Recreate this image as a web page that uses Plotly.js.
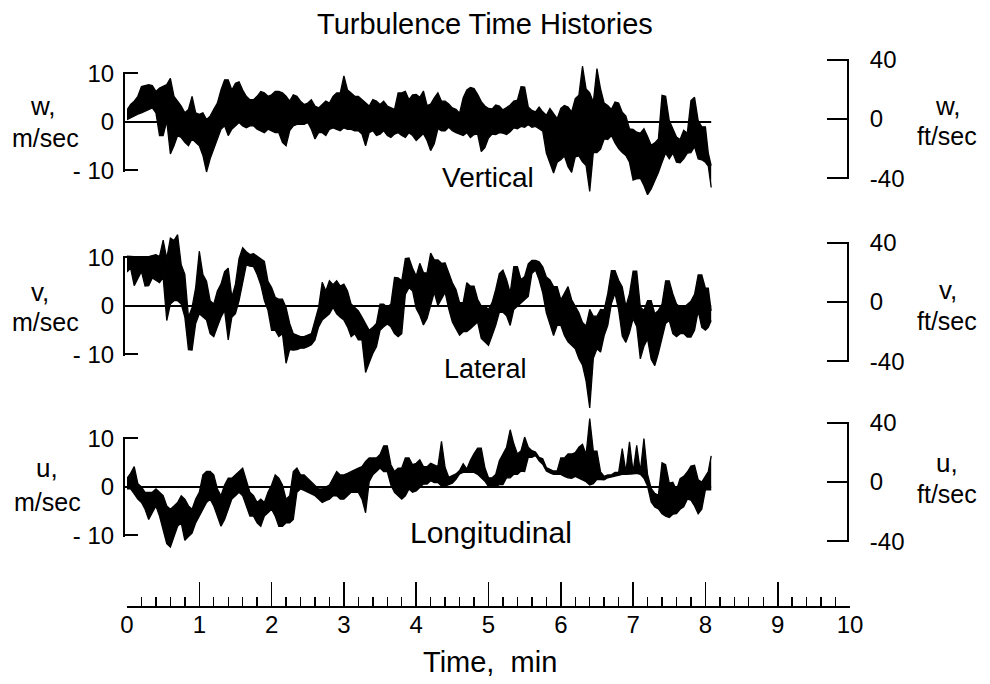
<!DOCTYPE html>
<html><head><meta charset="utf-8">
<script src="https://cdn.plot.ly/plotly-3.0.1.min.js"></script>
<style>html,body{margin:0;padding:0;background:#fff}#chart{width:990px;height:684px}</style>
</head><body><div id="chart"></div>
<script>
// ---- data ----
const time = [0,0.05,0.1,0.15,0.2,0.25,0.3,0.35,0.4,0.45,0.5,0.55,0.6,0.65,0.7,0.75,0.8,0.85,0.9,0.95,
1.0,1.05,1.1,1.15,1.2,1.25,1.3,1.35,1.4,1.45,1.5,1.55,1.6,1.65,1.7,1.75,1.8,1.85,1.9,1.95,
2.0,2.05,2.1,2.15,2.2,2.25,2.3,2.35,2.4,2.45,2.5,2.55,2.6,2.65,2.7,2.75,2.8,2.85,2.9,2.95,
3.0,3.05,3.1,3.15,3.2,3.25,3.3,3.35,3.4,3.45,3.5,3.55,3.6,3.65,3.7,3.75,3.8,3.85,3.9,3.95,
4.0,4.05,4.1,4.15,4.2,4.25,4.3,4.35,4.4,4.45,4.5,4.55,4.6,4.65,4.7,4.75,4.8,4.85,4.9,4.95,
5.0,5.05,5.1,5.15,5.2,5.25,5.3,5.35,5.4,5.45,5.5,5.55,5.6,5.65,5.7,5.75,5.8,5.85,5.9,5.95,
6.0,6.05,6.1,6.15,6.2,6.25,6.3,6.35,6.4,6.45,6.5,6.55,6.6,6.65,6.7,6.75,6.8,6.85,6.9,6.95,
7.0,7.05,7.1,7.15,7.2,7.25,7.3,7.35,7.4,7.45,7.5,7.55,7.6,7.65,7.7,7.75,7.8,7.85,7.9,7.95,
8.0,8.04,8.08];

// Vertical gust w, m/sec : upper / lower envelope of the recorded trace
const wHigh = [2.5,3.6,4.3,5.3,7.3,7.5,7.7,7.5,6.3,7.0,7.3,7.7,9.0,5.3,4.3,3.3,1.9,2.6,5.3,1.9,
1.6,1.9,0.5,1.2,2.6,3.9,6.6,8.7,8.7,6.6,8.0,8.3,6.6,5.3,4.6,4.6,5.3,6.3,6.0,5.3,
5.6,6.3,6.3,6.0,5.3,4.3,5.6,5.3,4.3,3.6,3.9,4.6,3.3,2.9,3.6,4.3,3.9,5.3,6.0,6.0,
9.5,6.6,6.0,5.3,5.3,4.6,3.9,3.3,4.6,4.3,3.6,4.3,3.3,2.9,2.6,6.0,6.0,6.3,4.6,5.6,
5.7,5.1,6.4,3.4,3.7,5.0,6.0,4.3,4.3,3.7,2.9,2.6,1.8,5.0,6.6,7.1,6.9,5.7,4.2,3.3,
2.8,2.7,3.5,3.3,2.5,3.0,3.5,4.3,4.5,7.3,7.2,3.1,2.4,2.1,3.1,2.1,1.4,2.8,1.8,0.7,
2.8,3.4,3.1,2.1,4.8,5.5,11.5,6.8,6.0,4.1,11.0,6.8,3.9,3.4,2.6,4.1,3.9,2.0,1.2,-1.4,
-1.5,-2.1,-2.3,-1.4,-3.0,-4.8,-4.3,-3.5,5.5,5.3,0.3,-1.5,-3.1,-3.6,-1.7,-2.3,4.4,5.1,0.3,-1.0,
-1.0,-6.4,-9.0];
const wLow = [0.5,0.9,1.2,1.6,1.9,2.2,2.6,2.9,1.9,-2.8,-2.8,0.2,-6.6,-4.9,-2.8,-3.2,-4.2,-4.9,-3.5,-4.2,
-4.9,-6.9,-10.3,-7.6,-5.6,-3.5,-1.5,-0.8,-2.8,-1.5,-0.8,-0.1,-0.8,-1.2,-0.8,-0.8,-1.5,-1.8,-2.2,-1.5,
-1.8,-2.2,-2.2,-4.2,-4.9,-1.8,-0.8,-0.5,-0.5,-0.5,-0.1,-1.5,-3.5,-2.2,-2.2,-2.8,-1.5,-1.2,-1.5,-1.8,
-1.2,-1.5,-1.5,-1.8,-1.8,-2.5,-4.9,-2.2,-1.8,-2.8,-2.5,-1.8,-2.8,-3.2,-2.5,-2.2,-2.8,-3.2,-2.2,-2.8,
-3.8,-3.1,-2.4,-3.8,-5.9,-4.5,-1.4,-1.8,-1.8,-1.1,-1.8,-2.2,-2.5,-2.8,-2.2,-3.2,-2.6,-2.5,-6.1,-5.3,
-3.3,-2.5,-2.6,-2.2,-2.3,-2.6,-2.0,-1.2,-1.4,-0.9,-1.1,-0.5,-1.1,-0.9,-1.4,-1.9,-6.4,-8.3,-10.5,-8.3,
-7.8,-7.0,-9.2,-10.4,-7.2,-7.0,-8.2,-9.0,-14.3,-6.3,-6.3,-5.6,-3.5,-3.6,-2.8,-4.3,-5.5,-6.3,-6.9,-8.3,
-12.0,-11.7,-11.6,-13.1,-15.0,-13.8,-12.2,-10.4,-8.3,-6.4,-7.6,-6.4,-8.3,-8.4,-7.6,-6.4,-6.3,-5.1,-7.6,-7.8,
-8.3,-9.1,-13.5];

// Lateral gust v, m/sec
const vHigh = [10.3,10.2,10.2,10.2,10.2,10.2,10.2,10.4,10.6,10.2,13.6,9.8,14.0,13.5,14.7,8.5,6.5,-2.3,-0.3,3.8,
11.3,6.5,5.1,1.1,0.4,3.1,4.5,7.1,7.8,1.8,4.5,9.8,12.0,11.2,10.6,10.8,10.2,9.8,9.2,5.1,
3.8,1.8,1.4,1.4,-0.3,-3.6,-5.7,-6.0,-6.3,-6.3,-6.0,-5.7,-3.0,-0.3,4.9,3.1,5.2,4.4,5.2,4.1,
4.5,3.1,0.4,-0.3,-1.0,-2.3,-3.7,-5.0,-4.4,-3.6,0.4,0.4,-0.3,0.4,5.9,5.8,5.2,9.8,9.9,7.8,
6.2,8.8,6.9,6.8,10.9,9.5,9.5,8.8,8.9,6.8,4.8,3.4,0.7,0.7,4.8,4.1,4.1,1.4,0.0,0.0,
-0.7,0.7,3.4,6.7,7.4,5.4,2.7,8.1,8.1,5.4,6.1,8.7,9.4,9.4,9.1,8.1,6.0,5.4,4.0,4.0,
1.3,2.6,4.0,1.3,0.0,-1.4,-3.4,-4.1,-0.7,-2.1,-2.1,-0.7,-0.8,2.6,7.3,7.3,5.3,3.9,-0.1,2.5,
7.2,7.2,-0.2,-0.9,1.1,1.1,-1.6,-0.9,0.4,5.2,5.2,2.5,0.4,-0.2,-0.3,0.4,1.0,2.4,6.4,6.4,
3.7,3.7,-1.0];
const vLow = [7.0,7.8,4.2,5.8,7.1,4.1,4.2,5.8,5.2,4.8,5.9,-3.0,0.4,1.1,1.1,0.4,-2.3,-9.0,-9.1,-3.6,
-1.6,-2.3,-2.9,-5.7,-6.3,-4.3,-2.3,-0.9,-7.0,-2.3,-1.6,1.1,4.5,8.5,8.2,8.1,6.5,4.4,1.1,-0.9,
-5.0,-5.0,-6.3,-5.7,-11.8,-9.0,-9.1,-9.0,-8.7,-8.7,-8.4,-8.0,-7.0,-4.3,-2.9,-2.3,-1.6,-0.3,-1.6,-2.3,
-2.9,-4.3,-6.3,-5.7,-7.0,-7.0,-13.7,-11.7,-9.8,-8.4,-5.0,-4.3,-3.7,-4.3,-5.7,-6.3,-5.7,2.4,3.8,3.1,
-0.5,-1.9,-3.9,-2.6,0.1,2.8,0.1,1.4,2.8,-0.6,-3.3,-4.7,-6.0,-5.3,-5.3,-4.7,-4.0,-3.3,-6.7,-7.4,
-8.1,-6.1,-4.0,-1.3,-1.3,-2.0,-4.0,-0.7,0.0,0.6,1.3,2.0,6.7,7.4,5.4,2.7,-1.4,-4.0,-6.1,-4.0,
-4.0,-6.1,-7.4,-8.1,-8.8,-10.8,-12.2,-15.5,-21.0,-10.8,-8.8,-9.5,-6.1,-4.0,0.5,2.6,-0.8,-6.2,-7.5,-5.5,
-2.6,-4.2,-10.9,-8.3,-6.8,-11.0,-12.3,-9.7,-6.3,-3.6,-3.0,-5.7,-6.3,-5.7,-5.7,-6.4,-6.4,-5.0,-1.0,-4.4,
-5.0,-4.4,-3.0];

// Longitudinal gust u, m/sec
const uHigh = [1.8,2.8,4.2,0.7,0.0,-1.1,-1.1,-1.1,-0.4,-1.1,-1.8,-3.9,-4.6,-3.9,-3.2,-1.8,-2.5,-3.9,-4.6,-2.5,
-1.1,2.5,3.2,3.2,2.5,-0.4,-1.8,0.4,1.8,1.8,2.5,3.2,3.9,1.4,-1.1,-1.8,-3.2,-2.5,-3.2,-1.1,
0.4,2.5,1.8,0.4,-2.5,-1.8,3.2,3.9,2.5,2.5,1.8,1.1,0.4,-0.4,-0.4,0.0,0.4,1.8,3.2,2.5,
2.5,2.8,3.2,3.5,3.9,4.2,5.3,6.0,6.0,6.0,6.7,8.5,8.5,4.6,3.2,3.9,3.9,6.0,6.0,4.6,
4.9,5.6,4.2,4.2,4.9,4.5,4.2,9.4,4.0,2.0,2.4,2.7,3.4,4.8,3.7,5.5,6.9,8.0,8.0,4.0,
1.9,1.9,2.6,5.4,6.8,8.2,11.8,8.9,6.8,7.5,10.3,8.2,7.5,7.2,6.1,5.8,4.0,3.6,3.3,3.3,
6.0,6.0,6.8,6.8,7.1,8.2,8.8,6.7,14.1,7.4,7.4,3.1,2.2,2.5,2.5,3.0,3.0,7.9,3.1,9.3,
3.1,8.6,3.2,10.0,2.6,-0.3,-1.3,-1.7,5.0,4.6,0.8,1.0,-0.6,1.7,2.2,3.1,4.3,4.5,1.5,1.0,
2.2,3.2,6.4];
const uLow = [-0.4,-0.4,-1.4,-2.5,-3.2,-4.6,-6.7,-5.3,-3.9,-6.0,-8.8,-11.7,-12.4,-10.2,-8.1,-7.4,-11.0,-10.2,-9.5,-7.4,
-6.0,-4.6,-3.2,-2.5,-3.9,-6.0,-8.1,-6.7,-4.6,-2.5,-1.8,-1.1,-1.8,-3.9,-6.0,-6.0,-7.4,-8.1,-6.0,-5.3,
-4.6,-6.0,-8.1,-8.1,-7.4,-7.4,-6.7,-1.1,-0.4,-0.7,-1.1,-1.4,-1.8,-2.5,-3.2,-2.8,-2.5,-1.8,-1.8,-2.5,
-2.5,-1.8,-1.1,-1.1,-1.1,-2.5,-5.3,1.1,2.5,3.2,3.9,3.2,3.2,0.4,-1.1,-1.8,-2.5,-1.8,-0.4,-1.1,
-0.8,-0.1,0.6,0.6,1.3,0.9,0.9,0.2,0.2,0.5,0.8,1.6,2.7,3.0,3.0,3.0,3.0,2.6,1.9,1.2,
0.1,0.1,0.1,0.5,0.5,1.9,1.9,2.6,2.6,3.3,3.2,6.1,6.1,6.5,5.4,4.7,3.3,2.9,2.6,2.6,
2.6,2.2,1.9,1.8,2.2,1.8,1.5,1.1,0.4,0.7,1.6,1.5,1.5,1.9,2.1,2.3,2.4,2.6,2.6,2.6,
2.7,2.8,2.6,1.8,0.2,-3.1,-4.1,-4.5,-5.5,-6.0,-6.3,-5.6,-5.5,-4.6,-4.1,-2.5,-2.7,-3.9,-5.5,-4.6,
-0.6,-0.6,-0.6];

const panelNames = ['Vertical','Lateral','Longitudinal'];
const panelSymbols = ['w,','v,','u,'];
const timeTicks = [0,1,2,3,4,5,6,7,8,9,10];
const leftTicks = [-10,0,10];
const leftTickText = ['- 10','0','10'];
const rightTicks = [-40,0,40];
const rightTickText = ['-40','0','40'];

// ---- layout helpers (pixel geometry of the page) ----
const W = 990, H = 684;
const PX = v => v / W;
const PY = v => (H - v) / H;
const K = 4.85;             // pixels per m/sec
const FT = 0.3048;          // m per ft
const TXT = 'Liberation Sans, Arial, sans-serif';
const LEXT = 10.25;         // left bracket half-extent, m/sec
const REXT = 40.8;          // right bracket half-extent, ft/sec

const geom = [
  {center:122, range:[-16,13], rcenter:119, lab:[43,106], unit:[45,138], rlab:[948,106], runit:[947,136], name:[488,177], nsize:28},
  {center:306, range:[-22,16], rcenter:302, lab:[40,292], unit:[45,322], rlab:[948,290], runit:[947,321], name:[485,369], nsize:27},
  {center:487, range:[-14,15], rcenter:482, lab:[47,468], unit:[47,502], rlab:[947,463], runit:[947,494], name:[491,532], nsize:30}
];
const series = [[wHigh,wLow],[vHigh,vLow],[uHigh,uLow]];

const traces = [];
const layout = {
  width: W, height: H,
  margin: {l:0, r:0, t:0, b:0},
  paper_bgcolor: '#fff', plot_bgcolor: 'rgba(0,0,0,0)',
  showlegend: false,
  font: {family: TXT, color: '#000', size: 24},
  xaxis: {
    domain: [PX(127), PX(850)], range: [0,10], anchor: 'free', position: PY(607),
    showline: true, linewidth: 2, linecolor: '#000', showgrid: false, zeroline: false,
    tickmode: 'array', tickvals: timeTicks, ticks: 'inside', ticklen: 24, tickwidth: 1.6, tickcolor: '#000',
    minor: {dtick: 0.2, tick0: 0, ticks: 'inside', ticklen: 9, tickwidth: 1.4, tickcolor: '#000', showgrid: false},
    tickfont: {family: TXT, size: 24, color: '#000'}, ticklabelstandoff: -4, fixedrange: true
  },
  annotations: [
    {text: 'Turbulence Time Histories', x: PX(485), y: PY(24), xref: 'paper', yref: 'paper', showarrow: false, xanchor: 'center', yanchor: 'middle', font: {family: TXT, size: 29}},
    {text: 'Time,  min', x: PX(490), y: PY(662), xref: 'paper', yref: 'paper', showarrow: false, xanchor: 'center', yanchor: 'middle', font: {family: TXT, size: 29}}
  ]
};

geom.forEach((g, i) => {
  const n = i + 1;
  const ya = n === 1 ? 'y' : 'y' + n;
  const yKey = n === 1 ? 'yaxis' : 'yaxis' + n;
  const [hi, lo] = series[i];
  // data axis (invisible), scaled so that K px = 1 m/sec
  layout[yKey] = {
    domain: [PY(g.center - g.range[0] * K), PY(g.center - g.range[1] * K)],
    range: g.range, visible: false, anchor: 'x', fixedrange: true
  };
  traces.push({x: time, y: hi, xaxis: 'x', yaxis: ya, type: 'scatter', mode: 'lines',
               line: {color: '#000', width: 1.3}, hoverinfo: 'skip'});
  traces.push({x: time, y: lo, xaxis: 'x', yaxis: ya, type: 'scatter', mode: 'lines', fill: 'tonexty',
               fillcolor: '#000', line: {color: '#000', width: 1.3}, hoverinfo: 'skip'});
  // zero reference line across the record
  traces.push({x: [time[0], time[time.length - 1]], y: [0, 0], xaxis: 'x', yaxis: ya, type: 'scatter',
               mode: 'lines', line: {color: '#000', width: 2}, hoverinfo: 'skip'});

  // left bracket axis in m/sec (ticks at -10, 0, 10)
  const lN = n + 3, rN = n + 6;
  layout['yaxis' + lN] = {
    domain: [PY(g.center + LEXT * K), PY(g.center - LEXT * K)], range: [-LEXT, LEXT], autorange: false,
    anchor: 'free', position: PX(124), side: 'left', showline: true, linewidth: 2, linecolor: '#000',
    showgrid: false, zeroline: false, tickmode: 'array', tickvals: leftTicks, ticktext: leftTickText,
    ticks: 'inside', ticklen: 13, tickwidth: 2, tickcolor: '#000', ticklabelstandoff: 4,
    tickfont: {family: TXT, size: 24, color: '#000'}, fixedrange: true
  };
  // right bracket axis in ft/sec (ticks at -40, 0, 40)
  const half = REXT * FT * K;
  layout['yaxis' + rN] = {
    domain: [PY(g.rcenter + half), PY(g.rcenter - half)], range: [-REXT, REXT], autorange: false,
    anchor: 'free', position: PX(848), side: 'right', showline: true, linewidth: 2, linecolor: '#000',
    showgrid: false, zeroline: false, tickmode: 'array', tickvals: rightTicks, ticktext: rightTickText,
    ticks: 'inside', ticklen: 20, tickwidth: 2, tickcolor: '#000', ticklabelstandoff: 16,
    tickfont: {family: TXT, size: 24, color: '#000'}, fixedrange: true
  };
  // empty traces so that the bracket axes get a subplot and are drawn
  traces.push({x: [], y: [], xaxis: 'x', yaxis: 'y' + lN, type: 'scatter', mode: 'lines', hoverinfo: 'skip'});
  traces.push({x: [], y: [], xaxis: 'x', yaxis: 'y' + rN, type: 'scatter', mode: 'lines', hoverinfo: 'skip'});

  const ann = (text, p, size) => ({text, x: PX(p[0]), y: PY(p[1]), xref: 'paper', yref: 'paper',
    showarrow: false, xanchor: 'center', yanchor: 'middle', font: {family: TXT, size: size}});
  layout.annotations.push(ann(panelSymbols[i], g.lab, 26));
  layout.annotations.push(ann('m/sec', g.unit, 25));
  layout.annotations.push(ann(panelSymbols[i], g.rlab, 26));
  layout.annotations.push(ann('ft/sec', g.runit, 25));
  layout.annotations.push(ann(panelNames[i], g.name, g.nsize));
});

Plotly.newPlot('chart', traces, layout, {staticPlot: true, displayModeBar: false});
</script>
</body></html>
